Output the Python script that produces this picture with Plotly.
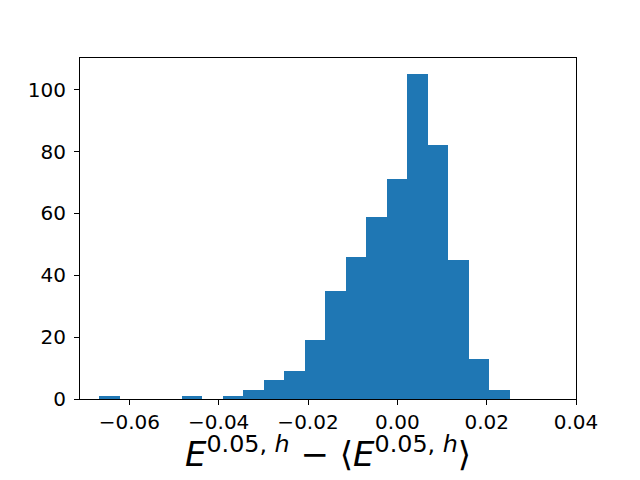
import numpy as np
import plotly.graph_objects as go

# Histogram data (20 bins, matplotlib-style)
data_min = -0.0667
data_max = 0.0252
counts = [1, 0, 0, 0, 1, 0, 1, 3, 6, 9, 19, 35, 46, 59, 71, 105, 82, 45, 13, 3]
x_ticks = [-0.06, -0.04, -0.02, 0.00, 0.02, 0.04]
y_ticks = [0, 20, 40, 60, 80, 100]
x_label = "<i>E</i><sup>0.05, <i>h</i></sup> − ⟨<i>E</i><sup>0.05, <i>h</i></sup>⟩"

edges = np.linspace(data_min, data_max, len(counts) + 1)
centers = (edges[:-1] + edges[1:]) / 2
width = edges[1] - edges[0]

fig = go.Figure(go.Bar(
    x=centers, y=counts, width=width,
    marker=dict(color="#1f77b4", line=dict(width=0)),
))

axis_common = dict(
    showgrid=False, zeroline=False, showline=True, mirror=True,
    linecolor="black", linewidth=1, ticks="outside", ticklen=5,
    tickcolor="black", tickwidth=1, automargin=False,
    tickfont=dict(family="DejaVu Sans", size=20, color="black"),
)

fig.update_layout(
    width=640, height=480,
    margin=dict(l=72, r=72, t=50, b=89),
    paper_bgcolor="white", plot_bgcolor="white",
    bargap=0, showlegend=False,
    font=dict(family="DejaVu Sans", color="black"),
    xaxis=dict(range=[-0.07105, 0.04], tickvals=x_ticks, tickformat=".2f",
               **axis_common),
    yaxis=dict(range=[0, 110.25], tickvals=y_ticks, ticklabelstandoff=4,
               **axis_common),
    annotations=[dict(
        text=x_label, xref="paper", yref="paper", x=0.5, y=0,
        xanchor="center", yanchor="top", yshift=-29, showarrow=False,
        font=dict(family="DejaVu Sans", size=34, color="black"),
    )],
)

fig.write_html("out.html")
